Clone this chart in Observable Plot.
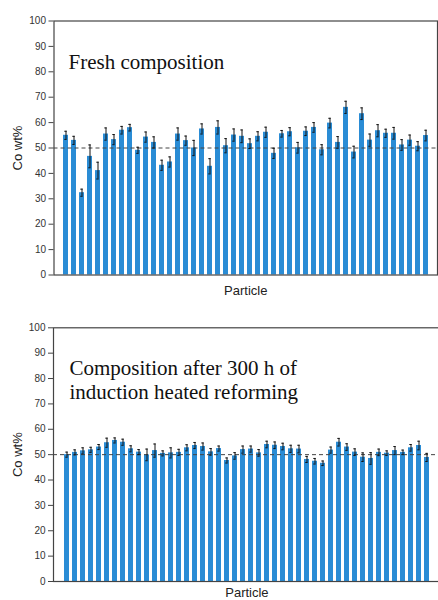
<!DOCTYPE html>
<html><head><meta charset="utf-8">
<script src="https://cdn.jsdelivr.net/npm/d3@7"></script>
<script src="https://cdn.jsdelivr.net/npm/@observablehq/plot@0.6"></script>
<style>
body{margin:0;background:#fff;}
#c{width:438px;height:600px;overflow:hidden;}
#c svg{display:block;}
</style></head><body><div id="c"></div>
<script>
const particles = d3.range(1, 47);
const freshCo = [55.0,53.0,32.4,46.7,41.1,55.5,53.3,57.0,58.0,49.1,54.3,52.2,43.2,44.5,55.5,52.9,50.0,57.5,42.8,58.1,50.9,55.1,54.6,51.7,54.6,56.2,47.9,55.6,56.4,50.1,56.6,58.1,49.3,59.8,52.2,66.0,48.4,63.5,53.1,56.8,55.8,55.8,51.2,53.1,50.7,54.9];
const freshErr = [1.6,1.6,1.4,4.5,3.3,2.4,2.0,1.5,1.3,1.2,2.0,2.2,2.0,2.0,2.4,1.8,3.0,2.0,3.0,2.6,2.8,2.4,2.5,1.9,1.8,2.0,2.0,1.3,1.6,2.1,1.7,1.9,2.0,1.9,2.3,2.4,2.3,2.3,2.4,2.4,1.6,2.3,2.1,2.0,1.8,2.1];
const agedCo = [50.0,50.9,51.5,51.9,53.0,54.7,55.6,54.9,52.3,51.0,49.9,51.6,50.5,50.7,50.9,52.7,53.6,53.2,51.1,52.4,47.7,49.5,52.0,52.2,50.7,54.0,53.7,53.2,52.3,52.2,48.1,47.4,46.6,51.8,54.9,53.0,51.0,49.0,48.5,50.9,50.6,51.6,50.9,52.7,53.6,48.9];
const agedErr = [1.0,1.0,1.2,1.0,1.0,1.8,1.0,1.2,1.2,1.0,2.3,2.6,1.0,2.0,1.2,1.2,1.2,1.4,1.3,1.0,1.0,1.3,1.4,1.2,1.3,1.3,1.3,1.3,1.4,1.5,1.2,1.1,0.9,1.2,1.5,1.3,1.3,1.7,2.3,1.3,0.9,1.6,0.9,1.3,1.7,1.6];
const yTicks = [0,10,20,30,40,50,60,70,80,90,100];
const referenceLine = [50];
const xLabel = "Particle";
const yLabel = "Co wt%";
const freshTitle = "Fresh composition";
const agedTitle = "Composition after 300 h of\ninduction heated reforming";

function panel(values, errs, title, o) {
  const data = particles.map((p, i) => ({p, v: values[i], lo: values[i] - errs[i], hi: values[i] + errs[i]}));
  return Plot.plot({
    width: 438, height: 300,
    marginLeft: o.ml, marginRight: o.mr, marginTop: o.mt, marginBottom: o.mb,
    style: {fontFamily: "'Liberation Sans', Arial, sans-serif", background: "white"},
    x: {type: "band", domain: particles, paddingInner: 0.34, paddingOuter: o.po, align: 0.5, axis: null},
    y: {domain: [0, 100], axis: null},
    marks: [
      Plot.barY(data, {x: "p", y: "v", fill: "#2a8cd5"}),
      Plot.ruleY(referenceLine, {stroke: "#444", strokeDasharray: "4,3", strokeWidth: 1}),
      Plot.ruleX(data, {x: "p", y1: "lo", y2: "hi", stroke: "#111", strokeWidth: 1}),
      Plot.tickY(data, {x: "p", y: "lo", stroke: "#111", strokeWidth: 1, insetLeft: 1.3, insetRight: 1.3}),
      Plot.tickY(data, {x: "p", y: "hi", stroke: "#111", strokeWidth: 1, insetLeft: 1.3, insetRight: 1.3}),
      Plot.frame({stroke: "#444", strokeWidth: 1.2}),
      Plot.axisY(yTicks, {tickSize: 5, tickPadding: 3, fontSize: 10, label: null, stroke: "#444", color: "#333"}),
      Plot.text([yLabel], {frameAnchor: "left", rotate: -90, dx: -36, textAnchor: "middle", lineAnchor: "middle", fontSize: 13, fill: "#222"}),
      Plot.text([title], {frameAnchor: "top-left", textAnchor: "start", lineAnchor: "top", dx: o.tdx, dy: o.tdy, fontFamily: "'Liberation Serif', 'Times New Roman', serif", fontSize: 21, lineHeight: 1.11, fill: "#111"}),
      Plot.text([xLabel], {frameAnchor: "bottom", lineAnchor: "middle", dy: o.xdy, fontSize: 13, fill: "#222"})
    ]
  });
}

const c = document.getElementById("c");
c.appendChild(panel(freshCo, freshErr, freshTitle, {ml: 53.5, mr: 1, mt: 20.5, mb: 25.5, po: 0.25, tdx: 14.5, tdy: 31.3, xdy: 15.5}));
c.appendChild(panel(agedCo, agedErr, agedTitle, {ml: 53, mr: -1.8, mt: 27.3, mb: 19, po: 0.11, tdx: 16, tdy: 31.1, xdy: 11.5}));
</script></body></html>
